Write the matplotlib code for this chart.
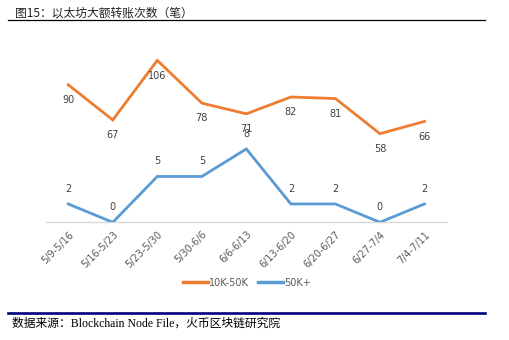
import matplotlib
matplotlib.use("Agg")
import matplotlib.pyplot as plt
from matplotlib.lines import Line2D

categories = ["5/9-5/16", "5/16-5/23", "5/23-5/30", "5/30-6/6", "6/6-6/13",
              "6/13-6/20", "6/20-6/27", "6/27-7/4", "7/4-7/11"]
series_10k_50k = [90, 67, 106, 78, 71, 82, 81, 58, 66]
series_50k_plus = [2, 0, 5, 5, 8, 2, 2, 0, 2]
labels = ["10K-50K", "50K+"]

ORANGE = "#ED7D31"
BLUE = "#5B9BD5"
GRAY = "#595959"
CJK = ["Noto Sans CJK SC", "DejaVu Sans"]

fig = plt.figure(figsize=(5.1, 3.4), dpi=100)
ax = fig.add_axes([0.0902, 0.3462, 0.7857, 0.5392])
ax2 = ax.twinx()

x = list(range(len(categories)))
l1, = ax.plot(x, series_10k_50k, color=ORANGE, lw=2.0, solid_joinstyle="miter")
l2, = ax2.plot(x, series_50k_plus, color=BLUE, lw=2.0, solid_joinstyle="miter")

for xi, v in zip(x, series_10k_50k):
    ax.annotate(str(v), (xi, v), xytext=(0, -11), textcoords="offset points",
                ha="center", va="center", fontsize=7, color="#404040")
for xi, v in zip(x, series_50k_plus):
    ax2.annotate(str(v), (xi, v), xytext=(0, 11), textcoords="offset points",
                 ha="center", va="center", fontsize=7, color="#404040")

ax.set_ylim(0, 120)
ax2.set_ylim(0, 20)
ax.set_xlim(-0.5, len(categories) - 0.5)

for a in (ax, ax2):
    for s in ("top", "right", "left"):
        a.spines[s].set_visible(False)
    a.spines["bottom"].set_color("#D9D9D9")
    a.spines["bottom"].set_linewidth(1.0)
    a.set_yticks([])
ax2.spines["bottom"].set_visible(False)

ax.set_xticks(x)
ax.set_xticklabels(categories, rotation=45, ha="right", va="top",
                   rotation_mode="anchor", fontsize=7, color=GRAY)
ax.tick_params(axis="x", length=0, pad=5)

handles = [Line2D([], [], color=ORANGE, lw=2.5), Line2D([], [], color=BLUE, lw=2.5)]
fig.legend(handles, labels, loc="center", bbox_to_anchor=(0.484, 0.168), ncol=2,
           frameon=False, fontsize=7, labelcolor=GRAY, handlelength=2.6,
           handletextpad=0.1, columnspacing=0.85)

fig.text(0.03, 0.962, "图15：以太坊大额转账次数（笔）", family=CJK, fontsize=8.5,
         color="#222222", ha="left", va="center")
fig.add_artist(Line2D([8 / 510, 485 / 510], [0.940, 0.940], color="black", lw=0.9,
                      transform=fig.transFigure))
fig.add_artist(Line2D([8 / 510, 485 / 510], [0.078, 0.078], color="#000080", lw=1.9,
                      transform=fig.transFigure))
fig.text(12 / 510, 0.049, "数据来源：Blockchain Node File，火币区块链研究院",
         family=["Liberation Serif", "Noto Sans CJK SC"], fontsize=8.5,
         color="black", ha="left", va="center")

fig.savefig("out.png", dpi=100, facecolor="white")
